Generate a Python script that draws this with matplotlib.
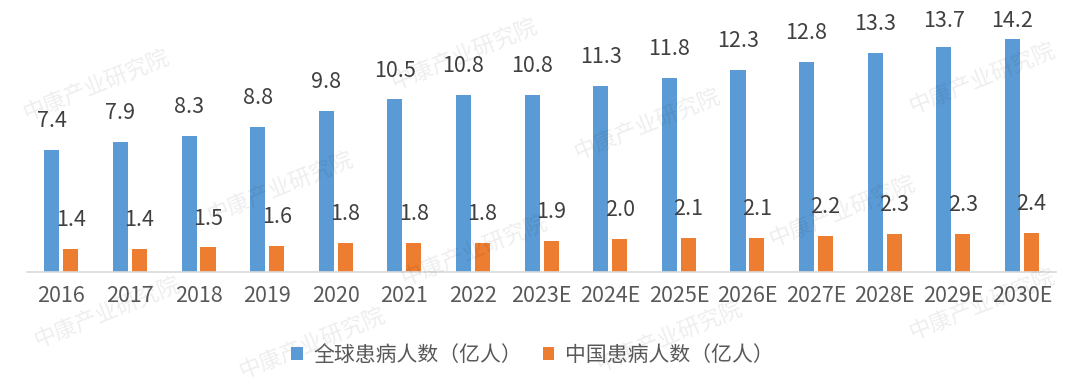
import numpy as np
import matplotlib
matplotlib.use("Agg")
import matplotlib.pyplot as plt

years = ["2016", "2017", "2018", "2019", "2020", "2021", "2022", "2023E", "2024E",
         "2025E", "2026E", "2027E", "2028E", "2029E", "2030E"]
global_patients = [7.4, 7.9, 8.3, 8.8, 9.8, 10.5, 10.8, 10.8, 11.3, 11.8, 12.3, 12.8, 13.3, 13.7, 14.2]
china_patients = [1.4, 1.4, 1.5, 1.6, 1.8, 1.8, 1.8, 1.9, 2.0, 2.1, 2.1, 2.2, 2.3, 2.3, 2.4]
series_names = ["全球患病人数（亿人）", "中国患病人数（亿人）"]

plt.rcParams['font.family'] = ['Noto Sans CJK SC', 'DejaVu Sans']

BLUE = "#5B9BD5"
ORANGE = "#ED7D31"

fig = plt.figure(figsize=(10.8, 3.91), dpi=100)
ax = fig.add_axes([0.025, 0.304, 0.953, 0.673])

# watermark, kept inside the canvas
wm_pos = [(0.09, 0.78), (0.26, 0.52), (0.10, 0.20), (0.43, 0.86), (0.44, 0.36),
          (0.60, 0.68), (0.62, 0.14), (0.78, 0.46), (0.91, 0.80), (0.91, 0.22),
          (0.29, 0.12)]
for x, y in wm_pos:
    fig.text(x, y, "中康产业研究院", fontsize=16, color="#000000", alpha=0.07,
             rotation=22, ha="center", va="center", zorder=0)

x = np.arange(len(years))
w = 0.22
off = 0.138
ax.bar(x - off, global_patients, w, color=BLUE, label=series_names[0], zorder=2)
ax.bar(x + off, china_patients, w, color=ORANGE, label=series_names[1], zorder=2)

lab_off = 1.76
cap = 15.3
for i in range(len(years)):
    ax.text(x[i] - off, min(global_patients[i] + lab_off, cap), f"{global_patients[i]:.1f}",
            ha="center", va="center", fontsize=15.5, color="#404040")
    ax.text(x[i] + off, min(china_patients[i] + lab_off, cap), f"{china_patients[i]:.1f}",
            ha="center", va="center", fontsize=15.5, color="#404040")

ax.set_xlim(-0.5, len(years) - 0.5)
ax.set_ylim(0, 16)
ax.set_xticks(x)
ax.set_xticklabels(years, fontsize=15.5, color="#595959")
ax.tick_params(axis="x", length=0, pad=9)
ax.set_yticks([])
for s in ["top", "right", "left"]:
    ax.spines[s].set_visible(False)
ax.spines["bottom"].set_color("#D9D9D9")
ax.spines["bottom"].set_linewidth(1.2)
ax.patch.set_alpha(0)

fig.legend(loc="center", bbox_to_anchor=(0.493, 0.092), ncol=2, frameon=False,
           fontsize=15, handlelength=0.55, handleheight=0.55, handletextpad=0.5,
           columnspacing=1.0, labelcolor="#595959")

fig.savefig("out.png", dpi=100)
